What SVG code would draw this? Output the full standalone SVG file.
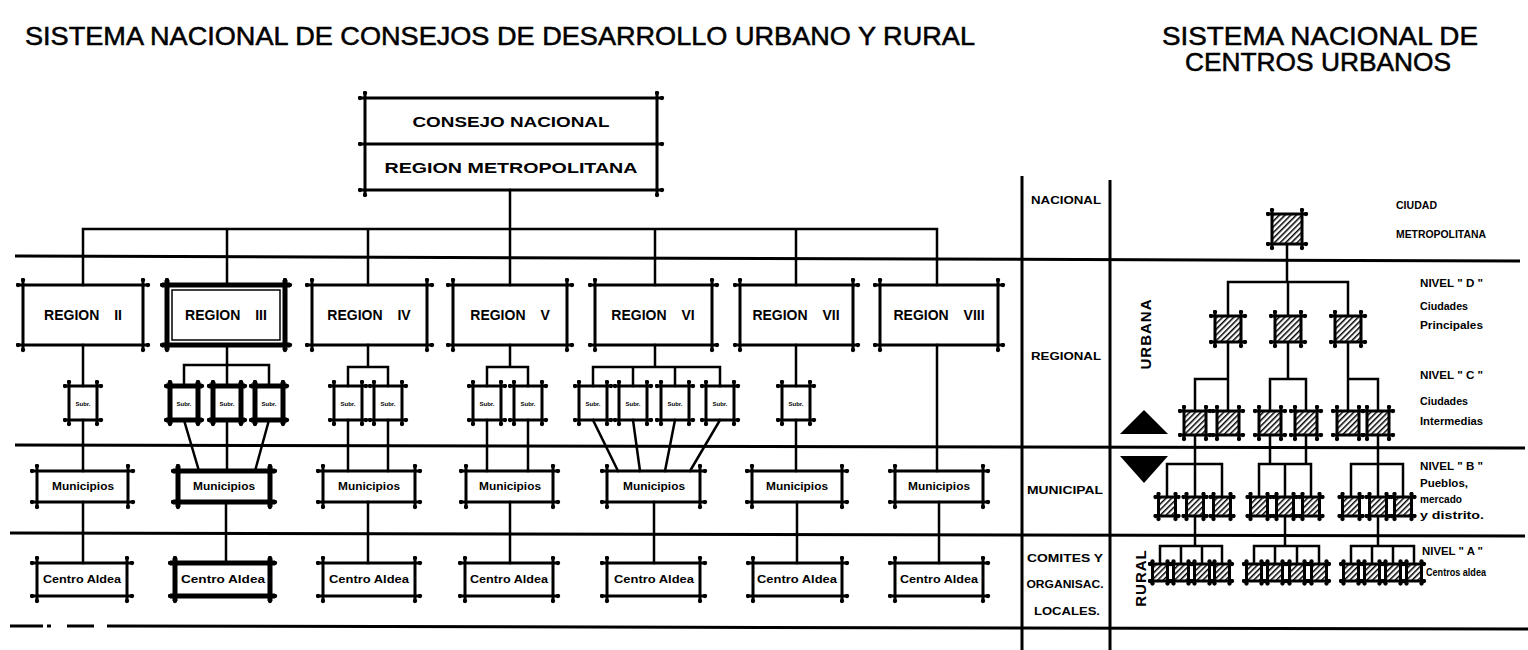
<svg xmlns="http://www.w3.org/2000/svg" width="1528" height="650" viewBox="0 0 1528 650">
<style>
.ln{fill:none;stroke:#000;stroke-width:2.5;stroke-linecap:square}
.band{fill:none;stroke:#000;stroke-width:3}
.bx{fill:none;stroke:#000;stroke-width:3;marker-start:url(#nib);marker-mid:url(#nib);marker-end:url(#nib)}
.bxk{fill:none;stroke:#000;stroke-width:5;marker-start:url(#nib);marker-mid:url(#nib);marker-end:url(#nib)}
.sq{fill:url(#hatch)}
.title{font-family:"Liberation Sans",Arial,sans-serif;font-size:25px;fill:#000;stroke:#000;stroke-width:0.5}
.lb{font-family:"Liberation Sans",Arial,sans-serif;font-weight:bold;fill:#000}
.rg{font-size:14px;word-spacing:11px}
.sm{font-size:10.5px}
.tiny{font-size:6px}
.side{font-size:11px}
.vert{font-size:15px;letter-spacing:1px}
</style>
<defs>
<marker id="nib" viewBox="-3 -3 6 6" markerWidth="5" markerHeight="5" markerUnits="userSpaceOnUse"><circle r="2.6" fill="#000"/></marker>
<pattern id="hatch" width="4" height="4" patternUnits="userSpaceOnUse" patternTransform="rotate(45)"><rect width="4" height="4" fill="#fff"/><rect width="1.5" height="4" fill="#000"/></pattern>
</defs>
<rect width="1528" height="650" fill="#fff"/>

<g id="titles">
<text class="title" x="25" y="45" textLength="950" lengthAdjust="spacingAndGlyphs">SISTEMA  NACIONAL  DE  CONSEJOS  DE  DESARROLLO  URBANO  Y  RURAL</text>
<text class="title" x="1320" y="45" text-anchor="middle" textLength="316" lengthAdjust="spacingAndGlyphs">SISTEMA NACIONAL DE</text>
<text class="title" x="1318" y="71" text-anchor="middle" textLength="266" lengthAdjust="spacingAndGlyphs">CENTROS URBANOS</text>
</g>

<g id="bands">
<path class="band" d="M15 256L1520 261M15 445L1525 448M10 533L1525 536M10 626H43M47 626H51M67 626H94M107 626L1528 629"/>
<path class="band" d="M1022 176V650M1110 180V650"/>
</g>

<g id="connectors">
<path class="ln" d="M510 190V285M83 229H937M83 229V285M227 229V285M368 229V285M655 229V285M796 229V285M937 229V285"/>
<path class="ln" d="M83 345V386M83 420V471M83 502V563"/>
<path class="ln" d="M227 345V365M184 365H269M184 365V386M227 365V386M269 365V386M184 420L199 471M227 420V471M269 420L255 471M226 502V563"/>
<path class="ln" d="M368 345V367M348 367H388M348 367V386M388 367V386M348 420V471M388 420V471M368 502V563"/>
<path class="ln" d="M510 345V367M487 367H528M487 367V386M528 367V386M487 420V471M528 420V471M510 502V563"/>
<path class="ln" d="M655 345V367M593 367H720M593 367V386M633 367V386M675 367V386M720 367V386M593 420L618 471M633 420L640 471M675 420L665 471M720 420L690 471M654 502V563"/>
<path class="ln" d="M796 345V386M796 420V471M797 502V563"/>
<path class="ln" d="M937 345V471M939 502V563"/>
<path class="ln" d="M1287 244V282M1228 282H1348M1228 282V316M1288 282V316M1348 282V316"/>
<path class="ln" d="M1228 342V411M1195 379H1228M1195 379V411M1288 342V379M1270 379H1306M1270 379V411M1306 379V411M1348 342V411M1348 379H1378M1378 379V411"/>
<path class="ln" d="M1195 435V497M1167 464H1222M1167 464V497M1222 464V497M1270 435V464M1306 435V464M1259 464H1311M1259 464V497M1285 464V497M1311 464V497M1378 435V497M1351 464H1403M1351 464V497M1403 464V497"/>
<path class="ln" d="M1195 516V546M1160 546H1222M1160 546V564M1181 546V564M1202 546V564M1222 546V564M1285 516V546M1254 546H1319M1254 546V564M1275 546V564M1297 546V564M1319 546V564M1378 516V546M1351 546H1414M1351 546V564M1372 546V564M1393 546V564M1414 546V564"/>
</g>

<g id="consejo-nacional">
<path class="bx" d="M360 98H662M360 190H662M365 93V195M657 93V195M360 144H662"/>
<text class="lb" x="511" y="127" text-anchor="middle" font-size="15" textLength="197" lengthAdjust="spacingAndGlyphs">CONSEJO  NACIONAL</text>
<text class="lb" x="511" y="173" text-anchor="middle" font-size="15" textLength="253" lengthAdjust="spacingAndGlyphs">REGION   METROPOLITANA</text>
</g>

<g id="region-ii"><path class="bx" d="M18 285H148M18 345H148M23 280V350M143 280V350"/><text class="lb rg" x="83" y="320" text-anchor="middle" word-spacing="20">REGION II</text></g>
<g id="region-iii"><path class="bxk" d="M162 285H290M162 345H290M167 280V350M285 280V350"/><rect x="172" y="290" width="108" height="50" fill="none" stroke="#000" stroke-width="1.5"/><text class="lb rg" x="226" y="320" text-anchor="middle">REGION III</text></g>
<g id="region-iv"><path class="bx" d="M307 285H432M307 345H432M312 280V350M427 280V350"/><text class="lb rg" x="369" y="320" text-anchor="middle">REGION IV</text></g>
<g id="region-v"><path class="bx" d="M448 285H572M448 345H572M453 280V350M567 280V350"/><text class="lb rg" x="510" y="320" text-anchor="middle">REGION V</text></g>
<g id="region-vi"><path class="bx" d="M590 285H717M590 345H717M595 280V350M712 280V350"/><text class="lb rg" x="653" y="320" text-anchor="middle">REGION VI</text></g>
<g id="region-vii"><path class="bx" d="M735 285H858M735 345H858M740 280V350M853 280V350"/><text class="lb rg" x="796" y="320" text-anchor="middle">REGION VII</text></g>
<g id="region-viii"><path class="bx" d="M875 285H1003M875 345H1003M880 280V350M998 280V350"/><text class="lb rg" x="939" y="320" text-anchor="middle">REGION VIII</text></g>

<g id="subregiones">
<g id="sub-ii-1"><path class="bx" d="M65 386H101M65 420H101M69 382V424M97 382V424"/><text class="lb tiny" x="83" y="406" text-anchor="middle">Subr.</text></g>
<g id="sub-iii-1"><path class="bxk" d="M166 386H202M166 420H202M170 382V424M198 382V424"/><text class="lb tiny" x="184" y="406" text-anchor="middle">Subr.</text></g>
<g id="sub-iii-2"><path class="bxk" d="M209 386H245M209 420H245M213 382V424M241 382V424"/><text class="lb tiny" x="227" y="406" text-anchor="middle">Subr.</text></g>
<g id="sub-iii-3"><path class="bxk" d="M251 386H287M251 420H287M255 382V424M283 382V424"/><text class="lb tiny" x="269" y="406" text-anchor="middle">Subr.</text></g>
<g id="sub-iv-1"><path class="bx" d="M330 386H366M330 420H366M334 382V424M362 382V424"/><text class="lb tiny" x="348" y="406" text-anchor="middle">Subr.</text></g>
<g id="sub-iv-2"><path class="bx" d="M370 386H406M370 420H406M374 382V424M402 382V424"/><text class="lb tiny" x="388" y="406" text-anchor="middle">Subr.</text></g>
<g id="sub-v-1"><path class="bx" d="M469 386H505M469 420H505M473 382V424M501 382V424"/><text class="lb tiny" x="487" y="406" text-anchor="middle">Subr.</text></g>
<g id="sub-v-2"><path class="bx" d="M510 386H546M510 420H546M514 382V424M542 382V424"/><text class="lb tiny" x="528" y="406" text-anchor="middle">Subr.</text></g>
<g id="sub-vi-1"><path class="bx" d="M575 386H611M575 420H611M579 382V424M607 382V424"/><text class="lb tiny" x="593" y="406" text-anchor="middle">Subr.</text></g>
<g id="sub-vi-2"><path class="bx" d="M615 386H651M615 420H651M619 382V424M647 382V424"/><text class="lb tiny" x="633" y="406" text-anchor="middle">Subr.</text></g>
<g id="sub-vi-3"><path class="bx" d="M657 386H693M657 420H693M661 382V424M689 382V424"/><text class="lb tiny" x="675" y="406" text-anchor="middle">Subr.</text></g>
<g id="sub-vi-4"><path class="bx" d="M702 386H738M702 420H738M706 382V424M734 382V424"/><text class="lb tiny" x="720" y="406" text-anchor="middle">Subr.</text></g>
<g id="sub-vii-1"><path class="bx" d="M778 386H814M778 420H814M782 382V424M810 382V424"/><text class="lb tiny" x="796" y="406" text-anchor="middle">Subr.</text></g>
</g>

<g id="municipios">
<g id="mun-ii"><path class="bx" d="M32 471H133M32 502H133M37 466V507M128 466V507"/><text class="lb sm" x="83" y="490" text-anchor="middle" textLength="62" lengthAdjust="spacingAndGlyphs">Municipios</text></g>
<g id="mun-iii"><path class="bxk" d="M173 471H275M173 502H275M178 466V507M270 466V507"/><text class="lb sm" x="224" y="490" text-anchor="middle" textLength="62" lengthAdjust="spacingAndGlyphs">Municipios</text></g>
<g id="mun-iv"><path class="bx" d="M318 471H420M318 502H420M323 466V507M415 466V507"/><text class="lb sm" x="369" y="490" text-anchor="middle" textLength="62" lengthAdjust="spacingAndGlyphs">Municipios</text></g>
<g id="mun-v"><path class="bx" d="M461 471H558M461 502H558M466 466V507M553 466V507"/><text class="lb sm" x="510" y="490" text-anchor="middle" textLength="62" lengthAdjust="spacingAndGlyphs">Municipios</text></g>
<g id="mun-vi"><path class="bx" d="M602 471H705M602 502H705M607 466V507M700 466V507"/><text class="lb sm" x="654" y="490" text-anchor="middle" textLength="62" lengthAdjust="spacingAndGlyphs">Municipios</text></g>
<g id="mun-vii"><path class="bx" d="M747 471H847M747 502H847M752 466V507M842 466V507"/><text class="lb sm" x="797" y="490" text-anchor="middle" textLength="62" lengthAdjust="spacingAndGlyphs">Municipios</text></g>
<g id="mun-viii"><path class="bx" d="M890 471H988M890 502H988M895 466V507M983 466V507"/><text class="lb sm" x="939" y="490" text-anchor="middle" textLength="62" lengthAdjust="spacingAndGlyphs">Municipios</text></g>
</g>

<g id="centros-aldea">
<g id="ca-ii"><path class="bx" d="M32 563H132M32 596H132M37 558V601M127 558V601"/><text class="lb sm" x="82" y="583" text-anchor="middle" textLength="78" lengthAdjust="spacingAndGlyphs">Centro Aldea</text></g>
<g id="ca-iii"><path class="bxk" d="M170 563H275M170 596H275M175 558V601M270 558V601"/><text class="lb sm" x="223" y="583" text-anchor="middle" textLength="84" lengthAdjust="spacingAndGlyphs">Centro Aldea</text></g>
<g id="ca-iv"><path class="bx" d="M318 563H420M318 596H420M323 558V601M415 558V601"/><text class="lb sm" x="369" y="583" text-anchor="middle" textLength="80" lengthAdjust="spacingAndGlyphs">Centro Aldea</text></g>
<g id="ca-v"><path class="bx" d="M460 563H558M460 596H558M465 558V601M553 558V601"/><text class="lb sm" x="509" y="583" text-anchor="middle" textLength="78" lengthAdjust="spacingAndGlyphs">Centro Aldea</text></g>
<g id="ca-vi"><path class="bx" d="M602 563H705M602 596H705M607 558V601M700 558V601"/><text class="lb sm" x="654" y="583" text-anchor="middle" textLength="80" lengthAdjust="spacingAndGlyphs">Centro Aldea</text></g>
<g id="ca-vii"><path class="bx" d="M748 563H847M748 596H847M753 558V601M842 558V601"/><text class="lb sm" x="797" y="583" text-anchor="middle" textLength="80" lengthAdjust="spacingAndGlyphs">Centro Aldea</text></g>
<g id="ca-viii"><path class="bx" d="M890 563H988M890 596H988M895 558V601M983 558V601"/><text class="lb sm" x="939" y="583" text-anchor="middle" textLength="78" lengthAdjust="spacingAndGlyphs">Centro Aldea</text></g>
</g>

<g id="niveles-labels">
<text class="lb side" x="1066" y="204" text-anchor="middle" textLength="70" lengthAdjust="spacingAndGlyphs">NACIONAL</text>
<text class="lb side" x="1066" y="360" text-anchor="middle" textLength="70" lengthAdjust="spacingAndGlyphs">REGIONAL</text>
<text class="lb side" x="1065" y="494" text-anchor="middle" textLength="76" lengthAdjust="spacingAndGlyphs">MUNICIPAL</text>
<text class="lb side" x="1065" y="562" text-anchor="middle" textLength="76" lengthAdjust="spacingAndGlyphs">COMITES Y</text>
<text class="lb side" x="1065" y="588" text-anchor="middle" textLength="77" lengthAdjust="spacingAndGlyphs">ORGANISAC.</text>
<text class="lb side" x="1067" y="615" text-anchor="middle" textLength="66" lengthAdjust="spacingAndGlyphs">LOCALES.</text>
<text class="lb vert" transform="translate(1151 334) rotate(-90)" text-anchor="middle">URBANA</text>
<text class="lb vert" transform="translate(1146 578) rotate(-90)" text-anchor="middle">RURAL</text>
<polygon points="1120,434 1168,434 1144,410" fill="#000"/>
<polygon points="1120,456 1168,456 1144,483" fill="#000"/>
</g>

<g id="ciudad-metropolitana"><rect class="sq" x="1272" y="214" width="30" height="30"/><path class="bx" d="M1268 214H1306M1268 244H1306M1272 210V248M1302 210V248"/></g>

<g id="nivel-d">
<g id="d1"><rect class="sq" x="1215" y="316" width="26" height="26"/><path class="bx" d="M1211 316H1245M1211 342H1245M1215 312V346M1241 312V346"/></g>
<g id="d2"><rect class="sq" x="1275" y="316" width="26" height="26"/><path class="bx" d="M1271 316H1305M1271 342H1305M1275 312V346M1301 312V346"/></g>
<g id="d3"><rect class="sq" x="1335" y="316" width="26" height="26"/><path class="bx" d="M1331 316H1365M1331 342H1365M1335 312V346M1361 312V346"/></g>
</g>

<g id="nivel-c">
<g id="c1"><rect class="sq" x="1184" y="411" width="22" height="24"/><path class="bx" d="M1180 411H1210M1180 435H1210M1184 407V439M1206 407V439"/></g>
<g id="c2"><rect class="sq" x="1217" y="411" width="22" height="24"/><path class="bx" d="M1213 411H1243M1213 435H1243M1217 407V439M1239 407V439"/></g>
<g id="c3"><rect class="sq" x="1259" y="411" width="22" height="24"/><path class="bx" d="M1255 411H1285M1255 435H1285M1259 407V439M1281 407V439"/></g>
<g id="c4"><rect class="sq" x="1295" y="411" width="22" height="24"/><path class="bx" d="M1291 411H1321M1291 435H1321M1295 407V439M1317 407V439"/></g>
<g id="c5"><rect class="sq" x="1337" y="411" width="22" height="24"/><path class="bx" d="M1333 411H1363M1333 435H1363M1337 407V439M1359 407V439"/></g>
<g id="c6"><rect class="sq" x="1367" y="411" width="22" height="24"/><path class="bx" d="M1363 411H1393M1363 435H1393M1367 407V439M1389 407V439"/></g>
</g>

<g id="nivel-b">
<g id="b1"><rect class="sq" x="1158.5" y="497" width="17" height="19"/><path class="bx" d="M1155.5 497H1178.5M1155.5 516H1178.5M1158.5 494V519M1175.5 494V519"/></g>
<g id="b2"><rect class="sq" x="1186.5" y="497" width="17" height="19"/><path class="bx" d="M1183.5 497H1206.5M1183.5 516H1206.5M1186.5 494V519M1203.5 494V519"/></g>
<g id="b3"><rect class="sq" x="1213.5" y="497" width="17" height="19"/><path class="bx" d="M1210.5 497H1233.5M1210.5 516H1233.5M1213.5 494V519M1230.5 494V519"/></g>
<g id="b4"><rect class="sq" x="1250.5" y="497" width="17" height="19"/><path class="bx" d="M1247.5 497H1270.5M1247.5 516H1270.5M1250.5 494V519M1267.5 494V519"/></g>
<g id="b5"><rect class="sq" x="1276.5" y="497" width="17" height="19"/><path class="bx" d="M1273.5 497H1296.5M1273.5 516H1296.5M1276.5 494V519M1293.5 494V519"/></g>
<g id="b6"><rect class="sq" x="1302.5" y="497" width="17" height="19"/><path class="bx" d="M1299.5 497H1322.5M1299.5 516H1322.5M1302.5 494V519M1319.5 494V519"/></g>
<g id="b7"><rect class="sq" x="1342.5" y="497" width="17" height="19"/><path class="bx" d="M1339.5 497H1362.5M1339.5 516H1362.5M1342.5 494V519M1359.5 494V519"/></g>
<g id="b8"><rect class="sq" x="1369.5" y="497" width="17" height="19"/><path class="bx" d="M1366.5 497H1389.5M1366.5 516H1389.5M1369.5 494V519M1386.5 494V519"/></g>
<g id="b9"><rect class="sq" x="1394.5" y="497" width="17" height="19"/><path class="bx" d="M1391.5 497H1414.5M1391.5 516H1414.5M1394.5 494V519M1411.5 494V519"/></g>
</g>

<g id="nivel-a">
<g id="a1"><rect class="sq" x="1152.5" y="564" width="15" height="17"/><path class="bx" d="M1150 564H1170M1150 581H1170M1152.5 561.5V583.5M1167.5 561.5V583.5"/></g>
<g id="a2"><rect class="sq" x="1173.5" y="564" width="15" height="17"/><path class="bx" d="M1171 564H1191M1171 581H1191M1173.5 561.5V583.5M1188.5 561.5V583.5"/></g>
<g id="a3"><rect class="sq" x="1194.5" y="564" width="15" height="17"/><path class="bx" d="M1192 564H1212M1192 581H1212M1194.5 561.5V583.5M1209.5 561.5V583.5"/></g>
<g id="a4"><rect class="sq" x="1214.5" y="564" width="15" height="17"/><path class="bx" d="M1212 564H1232M1212 581H1232M1214.5 561.5V583.5M1229.5 561.5V583.5"/></g>
<g id="a5"><rect class="sq" x="1246.5" y="564" width="15" height="17"/><path class="bx" d="M1244 564H1264M1244 581H1264M1246.5 561.5V583.5M1261.5 561.5V583.5"/></g>
<g id="a6"><rect class="sq" x="1267.5" y="564" width="15" height="17"/><path class="bx" d="M1265 564H1285M1265 581H1285M1267.5 561.5V583.5M1282.5 561.5V583.5"/></g>
<g id="a7"><rect class="sq" x="1289.5" y="564" width="15" height="17"/><path class="bx" d="M1287 564H1307M1287 581H1307M1289.5 561.5V583.5M1304.5 561.5V583.5"/></g>
<g id="a8"><rect class="sq" x="1311.5" y="564" width="15" height="17"/><path class="bx" d="M1309 564H1329M1309 581H1329M1311.5 561.5V583.5M1326.5 561.5V583.5"/></g>
<g id="a9"><rect class="sq" x="1343.5" y="564" width="15" height="17"/><path class="bx" d="M1341 564H1361M1341 581H1361M1343.5 561.5V583.5M1358.5 561.5V583.5"/></g>
<g id="a10"><rect class="sq" x="1364.5" y="564" width="15" height="17"/><path class="bx" d="M1362 564H1382M1362 581H1382M1364.5 561.5V583.5M1379.5 561.5V583.5"/></g>
<g id="a11"><rect class="sq" x="1385.5" y="564" width="15" height="17"/><path class="bx" d="M1383 564H1403M1383 581H1403M1385.5 561.5V583.5M1400.5 561.5V583.5"/></g>
<g id="a12"><rect class="sq" x="1406.5" y="564" width="15" height="17"/><path class="bx" d="M1404 564H1424M1404 581H1424M1406.5 561.5V583.5M1421.5 561.5V583.5"/></g>
</g>

<g id="tipos-labels">
<text class="lb side" x="1396" y="209" textLength="41" lengthAdjust="spacingAndGlyphs">CIUDAD</text>
<text class="lb side" x="1396" y="238" textLength="90" lengthAdjust="spacingAndGlyphs">METROPOLITANA</text>
<text class="lb side" x="1420" y="287" textLength="63" lengthAdjust="spacingAndGlyphs">NIVEL  " D "</text>
<text class="lb side" x="1420" y="310" textLength="48" lengthAdjust="spacingAndGlyphs">Ciudades</text>
<text class="lb side" x="1420" y="329" textLength="63" lengthAdjust="spacingAndGlyphs">Principales</text>
<text class="lb side" x="1420" y="379" textLength="63" lengthAdjust="spacingAndGlyphs">NIVEL  " C "</text>
<text class="lb side" x="1420" y="405" textLength="48" lengthAdjust="spacingAndGlyphs">Ciudades</text>
<text class="lb side" x="1420" y="425" textLength="63" lengthAdjust="spacingAndGlyphs">Intermedias</text>
<text class="lb side" x="1420" y="470" textLength="63" lengthAdjust="spacingAndGlyphs">NIVEL  " B "</text>
<text class="lb side" x="1420" y="487" textLength="48" lengthAdjust="spacingAndGlyphs">Pueblos,</text>
<text class="lb side" x="1420" y="503" textLength="42" lengthAdjust="spacingAndGlyphs">mercado</text>
<text class="lb side" x="1420" y="519" textLength="64" lengthAdjust="spacingAndGlyphs">y distrito.</text>
<text class="lb side" x="1422" y="555" textLength="61" lengthAdjust="spacingAndGlyphs">NIVEL  " A "</text>
<text class="lb side" x="1426" y="576" textLength="60" lengthAdjust="spacingAndGlyphs">Centros aldea</text>
</g>
</svg>
